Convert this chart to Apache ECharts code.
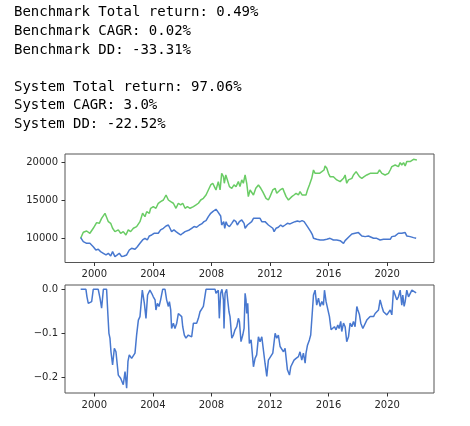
<!DOCTYPE html>
<html>
<head>
<meta charset="utf-8">
<script src="https://cdn.jsdelivr.net/npm/echarts@6/dist/echarts.min.js"></script>
<style>
  html, body { margin: 0; padding: 0; background: #fff; }
  #chart { width: 470px; height: 426px; }
</style>
</head>
<body>
<div id="chart"></div>
<script>
// printed stats above the plots (null = blank line)
const statLines = [
  'Benchmark Total return: 0.49%',
  'Benchmark CAGR: 0.02%',
  'Benchmark DD: -33.31%',
  null,
  'System Total return: 97.06%',
  'System CAGR: 3.0%',
  'System DD: -22.52%',
];

const yearTicks = [2000, 2004, 2008, 2012, 2016, 2020];
const equityTicks = [10000, 15000, 20000];
const ddTicks = [0, -0.1, -0.2];

// [year, value]
const systemEquity = [
  [1999.07,10000],[1999.25,10790],[1999.48,10960],[1999.70,10660],[1999.93,11320],[2000.16,12060],
  [2000.34,11970],[2000.50,12630],[2000.73,13290],[2000.84,13070],[2000.96,12190],[2001.12,11970],
  [2001.25,11320],[2001.41,10880],[2001.64,11100],[2001.80,10660],[2001.98,10880],[2002.16,10440],
  [2002.32,11100],[2002.48,10880],[2002.67,11320],[2002.89,11540],[2003.12,12190],[2003.30,13290],
  [2003.46,12850],[2003.58,13510],[2003.76,13290],[2003.85,13950],[2004.03,14170],[2004.21,13950],
  [2004.37,14610],[2004.53,14820],[2004.72,15040],[2004.90,15700],[2005.06,15040],[2005.22,14820],
  [2005.40,14610],[2005.58,13950],[2005.74,14610],[2005.90,14390],[2006.04,14610],[2006.20,13950],
  [2006.36,14170],[2006.54,13950],[2006.77,14170],[2006.95,14390],[2007.11,14610],[2007.27,15040],
  [2007.45,15260],[2007.63,15700],[2007.79,16360],[2007.95,17020],[2008.09,17240],[2008.20,16800],
  [2008.31,16360],[2008.47,17460],[2008.59,16360],[2008.70,18550],[2008.82,18110],[2008.88,17240],
  [2008.98,18330],[2009.09,17680],[2009.23,16800],[2009.39,16580],[2009.54,17020],[2009.68,16800],
  [2009.84,17460],[2009.95,16800],[2010.07,17680],[2010.18,17240],[2010.30,18330],[2010.41,17240],
  [2010.52,15480],[2010.64,16360],[2010.75,16140],[2010.87,15700],[2011.03,16580],[2011.21,17020],
  [2011.37,16580],[2011.50,16140],[2011.59,15920],[2011.73,15260],[2011.89,15040],[2012.00,15480],
  [2012.19,16360],[2012.35,16580],[2012.46,15920],[2012.57,15700],[2012.69,16360],[2012.87,16580],
  [2012.96,16140],[2013.10,15480],[2013.26,15040],[2013.37,15260],[2013.49,15480],[2013.64,15700],
  [2013.78,15920],[2013.94,15700],[2014.05,16140],[2014.19,15700],[2014.28,15920],[2014.46,15700],
  [2014.56,16360],[2014.69,17020],[2014.85,17890],[2014.97,18990],[2015.08,18550],[2015.19,18770],
  [2015.38,18550],[2015.54,18770],[2015.69,18990],[2015.76,19520],[2015.88,19210],[2015.99,18550],
  [2016.10,18110],[2016.22,17890],[2016.33,18110],[2016.45,17890],[2016.56,17680],[2016.67,17890],
  [2016.79,17460],[2016.90,17680],[2017.02,17890],[2017.13,18330],[2017.24,17240],[2017.36,17680],
  [2017.47,17890],[2017.59,17890],[2017.70,18330],[2017.88,18770],[2018.00,18550],[2018.11,18110],
  [2018.27,17890],[2018.43,18110],[2018.61,18330],[2018.72,18110],[2018.84,18550],[2018.95,18330],
  [2019.07,18550],[2019.18,18770],[2019.34,18550],[2019.48,18990],[2019.64,18550],[2019.75,18770],
  [2019.86,18330],[2019.98,18550],[2020.09,18550],[2020.21,18990],[2020.32,19430],[2020.43,19210],
  [2020.55,19650],[2020.66,19870],[2020.77,19430],[2020.89,19960],[2021.00,19650],[2021.12,19960],
  [2021.23,19520],[2021.34,20090],[2021.46,19870],[2021.57,20090],[2021.69,20310],[2021.80,20390],
  [2021.91,20310],[2022.03,20310],
];

const benchmarkEquity = [
  [1999.07,10090],[1999.25,9560],[1999.48,9340],[1999.70,9340],[1999.93,8900],[2000.11,8460],
  [2000.27,8550],[2000.43,8250],[2000.62,8030],[2000.80,7810],[2000.96,8030],[2001.12,7680],
  [2001.25,8250],[2001.41,7590],[2001.57,7810],[2001.71,8030],[2001.87,7590],[2002.03,7680],
  [2002.21,7810],[2002.39,8460],[2002.55,8680],[2002.78,8550],[2002.94,8900],[2003.12,9340],
  [2003.30,9780],[2003.46,10000],[2003.62,9780],[2003.76,10310],[2003.92,10440],[2004.08,10660],
  [2004.21,10880],[2004.37,10660],[2004.53,11100],[2004.72,11320],[2004.90,11620],[2005.06,11750],
  [2005.17,11320],[2005.28,10880],[2005.44,11100],[2005.58,10880],[2005.74,10660],[2005.90,10440],
  [2006.04,10660],[2006.20,10880],[2006.31,11100],[2006.49,11100],[2006.65,11320],[2006.81,11540],
  [2006.99,11450],[2007.18,11750],[2007.33,11890],[2007.49,12190],[2007.63,12320],[2007.79,12850],
  [2007.95,13290],[2008.09,13510],[2008.18,13730],[2008.31,13820],[2008.43,13510],[2008.54,13290],
  [2008.63,12940],[2008.70,11750],[2008.77,11540],[2008.84,12190],[2008.91,11320],[2009.00,12190],
  [2009.09,11750],[2009.23,11540],[2009.39,11970],[2009.54,12410],[2009.68,12190],[2009.77,11750],
  [2009.91,12190],[2010.07,12410],[2010.23,11970],[2010.30,11320],[2010.36,11100],[2010.46,11750],
  [2010.59,11970],[2010.75,12190],[2010.87,12630],[2010.98,12850],[2011.09,12630],[2011.21,12410],
  [2011.32,12630],[2011.44,12190],[2011.55,12410],[2011.66,12190],[2011.78,11970],[2011.89,11750],
  [2012.00,11540],[2012.19,11320],[2012.28,10880],[2012.41,11320],[2012.57,11450],[2012.73,11750],
  [2012.87,11540],[2013.03,11750],[2013.19,11970],[2013.37,11890],[2013.55,12060],[2013.71,12190],
  [2013.87,12280],[2014.05,12190],[2014.19,12320],[2014.33,12190],[2014.46,11970],[2014.56,11540],
  [2014.69,11320],[2014.78,10880],[2014.90,10440],[2014.97,10000],[2015.08,9780],[2015.19,9870],
  [2015.31,9690],[2015.42,9780],[2015.54,9870],[2015.65,9780],[2015.76,10000],[2015.88,9870],
  [2015.99,9780],[2016.10,10000],[2016.22,10130],[2016.33,9780],[2016.45,9560],[2016.56,9780],
  [2016.67,10000],[2016.79,9690],[2016.90,9430],[2017.02,9340],[2017.13,9690],[2017.24,9870],
  [2017.36,10130],[2017.47,10310],[2017.59,10570],[2017.70,10440],[2017.81,10660],[2017.93,10880],
  [2018.04,10750],[2018.16,10570],[2018.27,10310],[2018.38,10310],[2018.50,10220],[2018.61,10130],
  [2018.72,10310],[2018.84,10130],[2019.07,10000],[2019.18,9870],[2019.29,10000],[2019.41,9870],
  [2019.52,9780],[2019.64,9870],[2019.75,9870],[2019.86,9780],[2019.98,9870],[2020.09,10000],
  [2020.21,9870],[2020.32,10220],[2020.43,10440],[2020.55,10310],[2020.66,10440],[2020.77,10660],
  [2020.89,10570],[2021.00,10660],[2021.12,10440],[2021.23,10750],[2021.34,10310],[2021.46,10440],
  [2021.57,10220],[2021.69,10130],[2021.80,10090],[2021.98,10000],
];

const systemDrawdown = [
  [1999.07,0],[1999.43,0],[1999.50,-0.017],[1999.59,-0.032],[1999.70,-0.032],[1999.82,-0.028],
  [1999.93,0],[2000.27,0],[2000.39,-0.020],[2000.50,-0.043],[2000.62,0],[2000.84,0],
  [2000.93,-0.058],[2001.00,-0.100],[2001.07,-0.111],[2001.14,-0.142],[2001.25,-0.172],[2001.37,-0.134],
  [2001.48,-0.142],[2001.64,-0.195],[2001.80,-0.202],[2001.98,-0.217],[2002.10,-0.187],[2002.21,-0.225],
  [2002.30,-0.164],[2002.39,-0.149],[2002.55,-0.157],[2002.78,-0.145],[2002.89,-0.104],[2003.01,-0.070],
  [2003.12,-0.062],[2003.28,-0.002],[2003.42,-0.032],[2003.53,-0.066],[2003.64,-0.013],[2003.80,-0.002],
  [2003.92,-0.009],[2004.03,-0.017],[2004.15,-0.024],[2004.21,-0.047],[2004.31,-0.032],[2004.42,-0.039],
  [2004.53,-0.024],[2004.67,0],[2004.83,0],[2004.94,-0.024],[2005.06,-0.039],[2005.13,-0.028],
  [2005.22,-0.047],[2005.28,-0.089],[2005.40,-0.077],[2005.51,-0.089],[2005.63,-0.077],[2005.74,-0.055],
  [2005.85,-0.055],[2005.97,-0.062],[2006.04,-0.085],[2006.15,-0.104],[2006.26,-0.111],[2006.42,-0.104],
  [2006.54,-0.104],[2006.65,-0.108],[2006.77,-0.077],[2006.88,-0.073],[2006.99,-0.077],[2007.11,-0.066],
  [2007.22,-0.051],[2007.33,-0.047],[2007.45,-0.039],[2007.63,0],[2007.90,0],[2008.25,0],
  [2008.31,-0.009],[2008.47,-0.002],[2008.54,-0.066],[2008.63,-0.009],[2008.72,0],[2008.82,-0.024],
  [2008.86,-0.089],[2008.93,-0.009],[2009.04,0],[2009.11,-0.024],[2009.20,-0.051],[2009.27,-0.062],
  [2009.39,-0.111],[2009.50,-0.104],[2009.61,-0.092],[2009.73,-0.085],[2009.84,-0.066],[2009.91,-0.073],
  [2010.02,-0.119],[2010.14,-0.104],[2010.23,-0.089],[2010.30,-0.009],[2010.36,-0.024],[2010.41,-0.055],
  [2010.48,-0.032],[2010.59,-0.123],[2010.71,-0.115],[2010.87,-0.176],[2010.98,-0.157],[2011.09,-0.149],
  [2011.21,-0.108],[2011.32,-0.119],[2011.44,-0.108],[2011.55,-0.111],[2011.66,-0.168],[2011.78,-0.198],
  [2011.89,-0.161],[2012.00,-0.164],[2012.19,-0.145],[2012.35,-0.100],[2012.46,-0.111],[2012.57,-0.104],
  [2012.69,-0.130],[2012.80,-0.127],[2012.92,-0.142],[2013.03,-0.134],[2013.19,-0.183],[2013.33,-0.195],
  [2013.42,-0.176],[2013.55,-0.172],[2013.64,-0.161],[2013.78,-0.157],[2013.94,-0.153],[2014.05,-0.142],
  [2014.17,-0.161],[2014.28,-0.145],[2014.40,-0.168],[2014.46,-0.145],[2014.56,-0.127],[2014.69,-0.115],
  [2014.78,-0.104],[2014.90,-0.047],[2014.97,-0.013],[2015.08,-0.002],[2015.19,-0.036],[2015.31,-0.020],
  [2015.42,-0.039],[2015.54,-0.028],[2015.65,-0.036],[2015.72,-0.002],[2015.83,-0.028],[2015.92,-0.024],
  [2016.06,-0.062],[2016.17,-0.092],[2016.29,-0.089],[2016.40,-0.085],[2016.51,-0.092],[2016.63,-0.081],
  [2016.72,-0.089],[2016.83,-0.073],[2016.90,-0.096],[2017.02,-0.077],[2017.13,-0.085],[2017.24,-0.119],
  [2017.36,-0.108],[2017.47,-0.077],[2017.59,-0.085],[2017.70,-0.073],[2017.81,-0.085],[2017.93,-0.039],
  [2018.00,-0.047],[2018.11,-0.058],[2018.20,-0.077],[2018.34,-0.089],[2018.45,-0.085],[2018.61,-0.070],
  [2018.72,-0.073],[2018.84,-0.062],[2018.95,-0.058],[2019.07,-0.062],[2019.18,-0.055],[2019.29,-0.051],
  [2019.41,-0.047],[2019.52,-0.024],[2019.64,-0.039],[2019.75,-0.051],[2019.86,-0.055],[2019.98,-0.058],
  [2020.09,-0.062],[2020.21,-0.047],[2020.32,-0.058],[2020.43,-0.002],[2020.55,-0.002],[2020.66,-0.024],
  [2020.77,-0.017],[2020.89,-0.002],[2021.00,-0.036],[2021.07,-0.013],[2021.16,-0.039],[2021.23,-0.028],
  [2021.34,-0.002],[2021.46,-0.017],[2021.57,-0.013],[2021.69,-0.002],[2021.80,-0.005],[2021.98,-0.008],
];

const colors = { blue: '#4878CF', green: '#6ACC65' };
const labelStyle = { color: '#262626', fontSize: 10, fontFamily: 'DejaVu Sans' };
const tickStyle = { color: '#333', width: 1 };

const chart = echarts.init(document.getElementById('chart'), null, { renderer: 'canvas' });

function xAxisFor(gridIndex) {
  return {
    type: 'value',
    gridIndex,
    min: 1998.0,
    max: 2023.2,
    splitLine: { show: false },
    // keep the axis at the bottom edge, not at y = 0
    axisLine: { show: false, onZero: false },
    axisTick: { show: true, length: 3.5, customValues: yearTicks, lineStyle: tickStyle },
    axisLabel: { ...labelStyle, margin: 7, customValues: yearTicks, formatter: (v) => String(v) },
  };
}

// stats text, one line per row
const textRows = [];
statLines.forEach((line, i) => {
  if (line === null) return;
  textRows.push({
    type: 'text',
    x: 14,
    y: 12.7 + i * 18.6,
    style: {
      text: line,
      font: '14px "DejaVu Sans Mono"',
      fill: '#000',
      verticalAlign: 'middle',
    },
  });
});

chart.setOption({
  animation: false,
  backgroundColor: '#fff',
  graphic: textRows,
  grid: [
    { left: 65, right: 36, top: 154, bottom: 163.5, show: true, borderColor: '#555', borderWidth: 1 },
    { left: 65, right: 36, top: 285, bottom: 33, show: true, borderColor: '#555', borderWidth: 1 },
  ],
  xAxis: [xAxisFor(0), xAxisFor(1)],
  yAxis: [
    {
      type: 'value',
      gridIndex: 0,
      min: 6816,
      max: 21092,
      splitLine: { show: false },
      axisLine: { show: false, onZero: false },
      axisTick: { show: true, length: 3.5, customValues: equityTicks, lineStyle: tickStyle },
      axisLabel: { ...labelStyle, margin: 7, customValues: equityTicks, formatter: (v) => String(v) },
    },
    {
      type: 'value',
      gridIndex: 1,
      min: -0.2357,
      max: 0.0098,
      splitLine: { show: false },
      axisLine: { show: false, onZero: false },
      axisTick: { show: true, length: 3.5, customValues: ddTicks, lineStyle: tickStyle },
      axisLabel: {
        ...labelStyle,
        margin: 7,
        customValues: ddTicks,
        formatter: (v) => v.toFixed(1).replace('-', '\u2212'),
      },
    },
  ],
  series: [
    {
      name: 'System',
      type: 'line',
      xAxisIndex: 0,
      yAxisIndex: 0,
      data: systemEquity,
      showSymbol: false,
      lineStyle: { color: colors.green, width: 1.5 },
      itemStyle: { color: colors.green },
    },
    {
      name: 'Benchmark',
      type: 'line',
      xAxisIndex: 0,
      yAxisIndex: 0,
      data: benchmarkEquity,
      showSymbol: false,
      lineStyle: { color: colors.blue, width: 1.5 },
      itemStyle: { color: colors.blue },
    },
    {
      name: 'Drawdown',
      type: 'line',
      xAxisIndex: 1,
      yAxisIndex: 1,
      data: systemDrawdown,
      showSymbol: false,
      lineStyle: { color: colors.blue, width: 1.5 },
      itemStyle: { color: colors.blue },
    },
  ],
});
</script>
</body>
</html>
